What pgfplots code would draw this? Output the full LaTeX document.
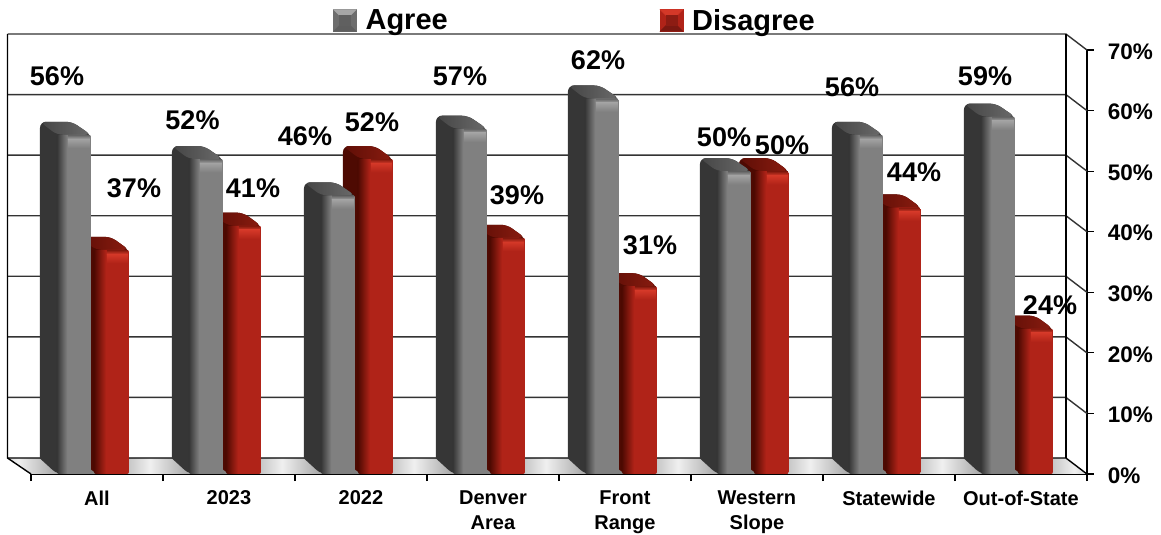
\documentclass[border=0pt]{standalone}
\usepackage{pgfplots}
\usepackage{pgfplotstable}
\usepackage{fontspec}
\setmainfont{Liberation Sans}
\pgfplotsset{compat=1.18}

\definecolor{greyside}{HTML}{363636}
\definecolor{greytopa}{HTML}{454545}
\definecolor{greytopb}{HTML}{6A6A6A}
\definecolor{greyface}{HTML}{808080}
\definecolor{greyhi}{HTML}{A2A2A2}
\definecolor{redside}{HTML}{4E0A02}
\definecolor{redtopa}{HTML}{5E0E06}
\definecolor{redtopb}{HTML}{8A1C10}
\definecolor{redface}{HTML}{B02318}
\definecolor{redhi}{HTML}{D43828}
\definecolor{wall}{HTML}{333333}

% Bar faces: dark on the left where they turn into the side, flat on the right
\pgfdeclarehorizontalshading{greyfront}{100bp}{color(0bp)=(greyside); color(25bp)=(greyside); color(40bp)=(greyface); color(100bp)=(greyface)}
\pgfdeclarehorizontalshading{redfront}{100bp}{color(0bp)=(redside); color(25bp)=(redside); color(42bp)=(redface); color(100bp)=(redface)}

\pgfplotstableread{
idx agree disagree
0   56    37
1   52    41
2   46    52
3   57    39
4   62    31
5   50    50
6   56    44
7   59    24
}\votes

% One extruded bar: side and top, then the face as a ybar, then the glint under its top edge.
% #1 category, #2 value, #3 rear-left offset, #4 bar shift, #5 bar width, #6 colour stem
\newcommand\solidbar[6]{%
  \pgfmathsetmacro\xa{#1+#3/132}%
  \pgfmathsetmacro\xb{#1+(#3+17)/132}%
  \pgfmathsetmacro\xc{#1+(#3+32)/132}%
  \pgfmathsetmacro\xd{#1+(66+#4+#5/2)/132}%
  \pgfmathsetmacro\xm{#1+0.5}%
  \pgfmathsetmacro\xs{\xb+11/132}%
  \pgfmathsetmacro\xe{\xd-1/132}%
  \pgfmathsetmacro\xh{0.5*(\xa+\xc)}%
  \pgfmathsetmacro\yt{#2+2.146}%
  \pgfmathsetmacro\yh{#2-0.7}%
  \pgfmathsetmacro\yu{#2-0.1}%
  \pgfmathsetmacro\yl{#2-2.2}%
  \edef\barcmd{%
    \noexpand\addplot[draw=none,fill=#6side,rounded corners=6pt,forget plot]
      coordinates {(\xa,2.56) (\xa,\yt) (\xc,\yt) (\xd,#2) (\xd,0) (\xb,0) (\xa,2.56)};
    \noexpand\addplot[draw=none,left color=#6topa,right color=#6topb,rounded corners=6pt,forget plot]
      coordinates {(\xh,\yt) (\xc,\yt) (\xd,#2) (\xb,#2) (\xa,\yt) (\xh,\yt)};
    \noexpand\addplot[ybar,bar width=#5pt,bar shift=#4pt,draw=none,shade,shading=#6front,rounded corners=2pt,forget plot]
      coordinates {(\xm,#2)};
    \noexpand\addplot[draw=none,top color=#6topb,bottom color=#6hi,forget plot]
      coordinates {(\xs,\yu) (\xe,\yu) (\xe,\yh) (\xs,\yh) (\xs,\yu)};
    \noexpand\addplot[draw=none,top color=#6hi,bottom color=#6face,forget plot]
      coordinates {(\xs,\yh) (\xe,\yh) (\xe,\yl) (\xs,\yl) (\xs,\yh)};
  }\barcmd
}

\begin{document}
\begin{tikzpicture}[x=1pt,y=1pt]
\path[use as bounding box] (0,0) rectangle (1161,535);
\begin{axis}[
  at={(31pt,61pt)},anchor=south west,
  scale only axis,width=1056pt,height=424pt,
  xmin=0,xmax=8,ymin=0,ymax=70,clip=false,
  axis x line*=bottom,axis y line*=right,
  axis line style={line width=1.4pt,color=black},
  xtick={0,...,8},x tick label as interval,
  xticklabels={All,2023,2022,{Denver\\Area},{Front\\Range},{Western\\Slope},Statewide,Out-of-State},
  xticklabel style={align=center,font=\bfseries\fontsize{20}{24.5}\selectfont,yshift=-6.5pt},
  ytick={0,10,...,70},
  yticklabels={0\%,10\%,20\%,30\%,40\%,50\%,60\%,70\%},
  yticklabel style={font=\bfseries\fontsize{22.5}{24}\selectfont,anchor=west,xshift=10.5pt,yshift=-1.5pt},
  tick align=outside,major tick length=7pt,
  tick style={line width=1.2pt,color=black},
  legend columns=2,
  legend cell align=left,
  legend style={at={(axis description cs:0.286,1.0696)},anchor=west,draw=none,fill=none,inner sep=0pt,
    font=\bfseries\fontsize{29}{29}\selectfont,
    /tikz/every even column/.append style={column sep=210pt},
    /tikz/every odd column/.append style={column sep=7pt}},
]
% Legend keys with a bevelled square
\addlegendimage{legend image code/.code={
  \fill[greyface!85!black] (0pt,-11pt) rectangle (23pt,11pt);
  \fill[greyface!70!white] (0pt,11pt)--(23pt,11pt)--(17pt,5pt)--(6pt,5pt)--cycle;
  \fill[greyside!80!white] (0pt,-11pt)--(23pt,-11pt)--(17pt,-5pt)--(6pt,-5pt)--cycle;
  \fill[greyface!75!black] (6pt,-5pt) rectangle (17pt,5pt);
}}
\addlegendentry{Agree}
\addlegendimage{legend image code/.code={
  \fill[redface] (0pt,-11pt) rectangle (23pt,11pt);
  \fill[redhi] (0pt,11pt)--(23pt,11pt)--(17pt,5pt)--(6pt,5pt)--cycle;
  \fill[redface!70!black] (0pt,-11pt)--(23pt,-11pt)--(17pt,-5pt)--(6pt,-5pt)--cycle;
  \fill[redface!80!black] (6pt,-5pt) rectangle (17pt,5pt);
}}
\addlegendentry{Disagree}

% Floor of the box, a band of sheen per category
\pgfplotsextra{
  \begin{scope}
    \clip (axis cs:-0.178,2.64) -- (axis cs:7.841,2.64) -- (axis cs:8,0) -- (axis cs:0,0) -- cycle;
    \foreach \k in {0,...,8}{
      \shade[left color=black!55,right color=black!55,middle color=black!6]
        (axis cs:\k-0.598,0) rectangle (axis cs:\k+0.402,2.64);
    }
  \end{scope}
}

% Rear wall: level lines with their returns towards the axis
\pgfplotsinvokeforeach{10,20,30,40,50,60,70}{
  \draw[color=wall,line width=1.4pt] (axis cs:-0.178,#1+2.64) -- (axis cs:7.841,#1+2.64) -- (axis cs:8,#1);
}
\draw[color=black,line width=1.4pt] (axis cs:-0.178,72.64) -- (axis cs:-0.178,2.64) -- (axis cs:0,0);
\draw[color=black,line width=1.4pt] (axis cs:-0.178,2.64) -- (axis cs:7.841,2.64) -- (axis cs:8,0);
\draw[color=black,line width=1.4pt] (axis cs:7.841,72.64) -- (axis cs:7.841,2.64);

% Disagree bars behind, Agree bars in front
\pgfplotsforeachungrouped \r in {0,...,7}{
  \pgfplotstablegetelem{\r}{disagree}\of\votes
  \let\val\pgfplotsretval
  \solidbar{\r}{\val}{48}{14.5}{35}{red}
}
\pgfplotsforeachungrouped \r in {0,...,7}{
  \pgfplotstablegetelem{\r}{agree}\of\votes
  \let\val\pgfplotsretval
  \solidbar{\r}{\val}{9}{-23}{34}{grey}
}
\end{axis}
% Value labels, set by hand beside their bars
\begin{scope}[every node/.style={font=\bfseries\fontsize{27}{27}\selectfont,inner sep=0pt,anchor=center}]
\node at (57,535-76) {56\%};
\node at (134,535-188) {37\%};
\node at (192.5,535-120.5) {52\%};
\node at (253,535-188) {41\%};
\node at (305,535-136) {46\%};
\node at (372,535-122) {52\%};
\node at (460,535-76) {57\%};
\node at (517,535-195) {39\%};
\node at (598,535-60) {62\%};
\node at (650,535-245) {31\%};
\node at (724,535-137) {50\%};
\node at (782,535-145) {50\%};
\node at (852,535-87) {56\%};
\node at (914,535-172) {44\%};
\node at (985,535-76) {59\%};
\node at (1050,535-305) {24\%};
\end{scope}
\end{tikzpicture}
\end{document}
